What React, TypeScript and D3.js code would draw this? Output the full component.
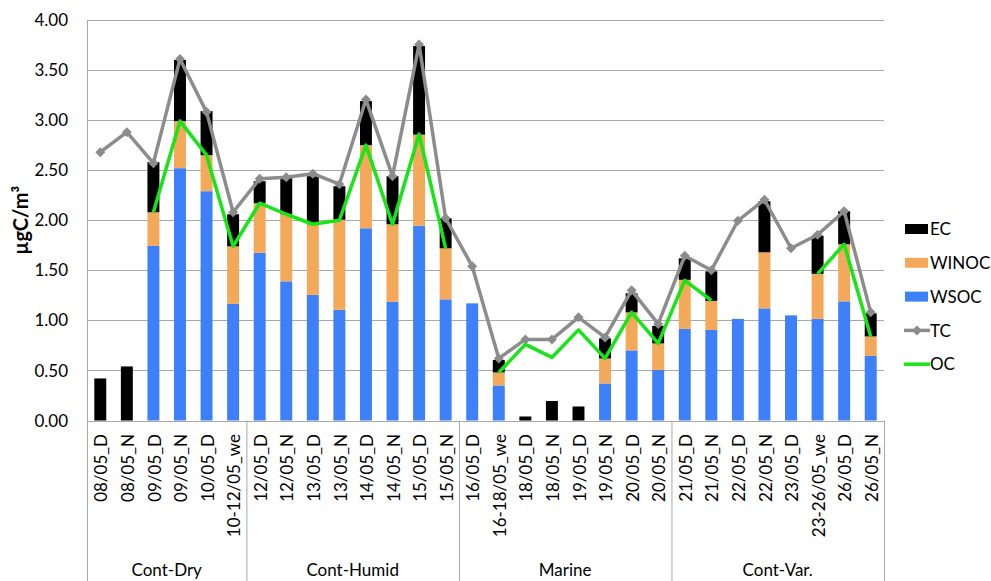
import * as d3 from "d3";

const categories = [
  "08/05_D", "08/05_N", "09/05_D", "09/05_N", "10/05_D", "10-12/05_we",
  "12/05_D", "12/05_N", "13/05_D", "13/05_N", "14/05_D", "14/05_N", "15/05_D", "15/05_N",
  "16/05_D", "16-18/05_we", "18/05_D", "18/05_N", "19/05_D", "19/05_N", "20/05_D", "20/05_N",
  "21/05_D", "21/05_N", "22/05_D", "22/05_N", "23/05_D", "23-26/05_we", "26/05_D", "26/05_N",
];

const groups = [
  { name: "Cont-Dry", start: 0, count: 6 },
  { name: "Cont-Humid", start: 6, count: 8 },
  { name: "Marine", start: 14, count: 8 },
  { name: "Cont-Var.", start: 22, count: 8 },
];

const wsoc = [0, 0, 1.745, 2.52, 2.29, 1.165, 1.675, 1.39, 1.255, 1.105, 1.92, 1.185, 1.945, 1.21,
  1.17, 0.35, 0, 0, 0, 0.37, 0.70, 0.505, 0.915, 0.905, 1.015, 1.12, 1.05, 1.015, 1.19, 0.645];
const winoc = [0, 0, 0.335, 0.47, 0.36, 0.575, 0.495, 0.67, 0.705, 0.90, 0.83, 0.775, 0.91, 0.51,
  0, 0.13, 0, 0, 0, 0.25, 0.38, 0.265, 0.49, 0.29, 0, 0.56, 0, 0.45, 0.57, 0.195];
const ec = [0.42, 0.54, 0.50, 0.61, 0.44, 0.32, 0.22, 0.36, 0.48, 0.335, 0.44, 0.48, 0.885, 0.30,
  0, 0.125, 0.04, 0.195, 0.14, 0.20, 0.19, 0.175, 0.215, 0.295, 0, 0.51, 0, 0.38, 0.33, 0.23];
const tc = [2.68, 2.88, 2.57, 3.61, 3.08, 2.08, 2.415, 2.43, 2.465, 2.36, 3.205, 2.44, 3.755, 2.02,
  1.54, 0.62, 0.81, 0.81, 1.03, 0.83, 1.30, 0.965, 1.645, 1.50, 1.995, 2.205, 1.72, 1.855, 2.09, 1.08];
const oc: (number | null)[] = [null, null, 2.08, 2.99, 2.65, 1.74, 2.17, 2.06, 1.96, 2.00, 2.75, 1.96, 2.86, 1.72,
  null, 0.48, 0.76, 0.63, 0.905, 0.62, 1.08, 0.77, 1.40, 1.20, null, null, null, 1.465, 1.76, 0.84];

const yTicks = [0, 0.5, 1, 1.5, 2, 2.5, 3, 3.5, 4];

const colors: Record<string, string> = {
  EC: "#000000",
  WINOC: "#f4a85a",
  WSOC: "#3d80f9",
  TC: "#8c8c8c",
  OC: "#16e616",
};

const FONT = "Lato, 'Open Sans', sans-serif";

export default function App() {
  const width = 991;
  const height = 581;
  const left = 87, right = 884, top = 20, bottom = 420.5;

  const x = d3.scaleBand<string>().domain(categories).range([left, right])
    .paddingInner(0.55).paddingOuter(0.275);
  const y = d3.scaleLinear().domain([0, 4]).range([bottom, top]);
  const cx = (i: number) => (x(categories[i]) as number) + x.bandwidth() / 2;

  const rows = categories.map((c, i) => ({ cat: c, WSOC: wsoc[i], WINOC: winoc[i], EC: ec[i] }));
  const keys = ["WSOC", "WINOC", "EC"];
  const stacked = d3.stack<any>().keys(keys)(rows);

  const line = d3.line<number | null>()
    .defined(d => d != null)
    .x((_, i) => cx(i))
    .y(d => y(d as number));

  const diamond = d3.symbol().type(d3.symbolSquare).size(50);

  const boundary = (i: number) =>
    i >= categories.length ? right : (x(categories[i]) as number) - x.step() * x.paddingOuter();

  const legendItems = ["EC", "WINOC", "WSOC", "TC", "OC"];

  return (
    <svg width={width} height={height} style={{ position: "absolute", left: 0, top: 0, background: "#fff" }}
      fontFamily={FONT}>
      {/* gridlines */}
      {yTicks.map(t => (
        <line key={t} x1={left} x2={right} y1={Math.round(y(t)) + 0.5} y2={Math.round(y(t)) + 0.5}
          stroke="#a9a9a9" strokeWidth={1} />
      ))}
      {/* y tick labels */}
      {yTicks.map(t => (
        <text key={"l" + t} x={68} y={y(t)} dy="0.36em" textAnchor="end" fontSize={17} fill="#000">
          {t.toFixed(2)}
        </text>
      ))}
      {/* y axis line */}
      <line x1={left + 0.5} x2={left + 0.5} y1={top} y2={height} stroke="#a9a9a9" />
      {/* group separators below axis */}
      {groups.map(g => (
        <line key={"s" + g.name} x1={boundary(g.start + g.count) + 0.5} x2={boundary(g.start + g.count) + 0.5}
          y1={bottom} y2={height} stroke="#a9a9a9" />
      ))}

      {/* stacked bars */}
      {stacked.map(layer => (
        <g key={layer.key} fill={colors[layer.key]}>
          {layer.map((d, i) => d[1] - d[0] > 0 ? (
            <rect key={i} x={x(categories[i])} width={x.bandwidth()}
              y={y(d[1])} height={y(d[0]) - y(d[1])} />
          ) : null)}
        </g>
      ))}

      {/* TC line */}
      <path d={line(tc) as string} fill="none" stroke={colors.TC} strokeWidth={3.5} strokeLinejoin="round" />
      {tc.map((v, i) => (
        <path key={"m" + i} d={diamond() as string} fill={colors.TC}
          transform={`translate(${cx(i)},${y(v)}) rotate(45)`} />
      ))}
      {/* OC line */}
      <path d={line(oc) as string} fill="none" stroke={colors.OC} strokeWidth={3.5} strokeLinejoin="round" />

      {/* x labels */}
      {categories.map((c, i) => (
        <text key={"x" + c} transform={`translate(${cx(i) + 1},434) rotate(-90)`} textAnchor="end"
          dy="0.36em" fontSize={17} fill="#000">{c}</text>
      ))}
      {/* group labels */}
      {groups.map(g => (
        <text key={"g" + g.name} x={(boundary(g.start) + boundary(g.start + g.count)) / 2} y={576}
          textAnchor="middle" fontSize={17} fill="#000">{g.name}</text>
      ))}

      {/* y title */}
      <text transform={`translate(21,${(top + bottom) / 2}) rotate(-90)`} textAnchor="middle" dy="0.36em"
        fontSize={20} fontWeight="bold" fill="#000">µgC/m³</text>

      {/* legend */}
      {legendItems.map((k, i) => {
        const ly = 229 + i * 33.8;
        return (
          <g key={"lg" + k} transform={`translate(905,${ly})`}>
            {i < 3 ? (
              <rect x={0} y={-5} width={23} height={10} fill={colors[k]} />
            ) : (
              <>
                <line x1={-1} x2={25} y1={0} y2={0} stroke={colors[k]} strokeWidth={3.5} />
                {k === "TC" ? (
                  <path d={diamond() as string} fill={colors.TC} transform="translate(12,0) rotate(45)" />
                ) : null}
              </>
            )}
            <text x={25} dy="0.36em" fontSize={17} fill="#000">{k}</text>
          </g>
        );
      })}
    </svg>
  );
}
